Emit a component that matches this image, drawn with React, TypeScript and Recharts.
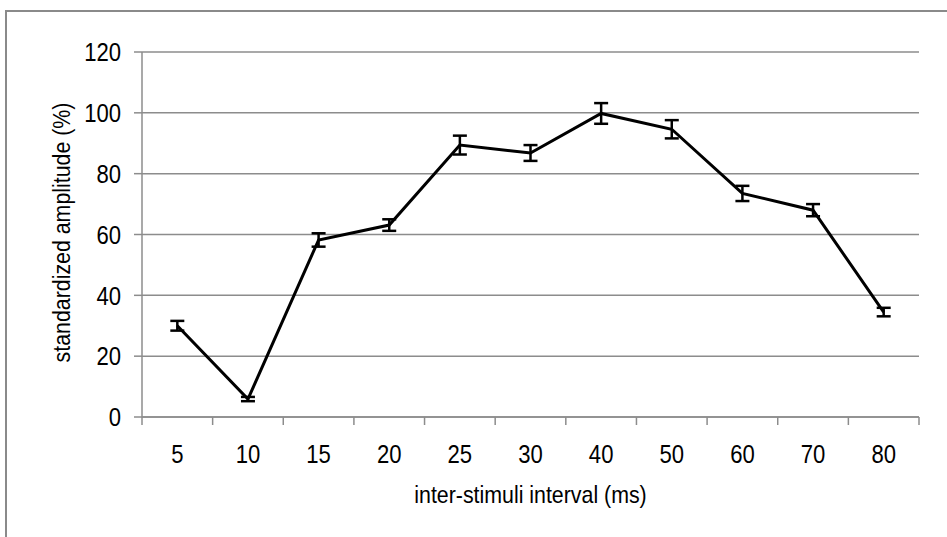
import { CartesianGrid, ErrorBar, Line, LineChart, XAxis, YAxis } from 'recharts';

const intervals = ['5', '10', '15', '20', '25', '30', '40', '50', '60', '70', '80'];
const amplitude = [30.0, 5.9, 58.2, 63.1, 89.4, 86.8, 99.8, 94.6, 73.5, 68.0, 34.5];
const amplitudeErr = [1.6, 0.7, 2.2, 1.9, 3.1, 2.6, 3.4, 3.0, 2.5, 2.0, 1.4];
const yTicks = [0, 20, 40, 60, 80, 100, 120];

const font = "'Liberation Sans', Arial, sans-serif";

const data = intervals.map((isi, i) => ({
  isi,
  pos: i + 0.5,
  amp: amplitude[i],
  err: amplitudeErr[i],
}));

const boundaries = intervals.map((_, i) => i).concat(intervals.length);
const centers = intervals.map((_, i) => i + 0.5);

// the original text is a narrow face, so squeeze Liberation Sans horizontally
function NarrowTick(props: any) {
  const { x, y, payload, textAnchor, vertical, label } = props;
  return (
    <g transform={`translate(${x},${y})`}>
      <text
        transform="scale(0.85,1)"
        textAnchor={textAnchor}
        dy={vertical ? '0.355em' : '0.71em'}
        fill="#000"
        fontSize={26}
        fontFamily={font}
      >
        {label ? label(payload.value) : payload.value}
      </text>
    </g>
  );
}

function XTitle({ viewBox }: any) {
  const cx = viewBox.x + viewBox.width / 2;
  return (
    <text
      transform={`translate(${cx},${503}) scale(0.89,1)`}
      textAnchor="middle"
      fill="#000"
      fontSize={24}
      fontFamily={font}
    >
      inter-stimuli interval (ms)
    </text>
  );
}

function YTitle({ viewBox }: any) {
  const cy = viewBox.y + viewBox.height / 2 - 2;
  return (
    <text
      transform={`translate(61,${cy}) rotate(-90) scale(0.89,1)`}
      textAnchor="middle"
      dy="0.355em"
      fill="#000"
      fontSize={24}
      fontFamily={font}
    >
      standardized amplitude (%)
    </text>
  );
}

export default function App() {
  return (
    <div style={{ position: 'absolute', left: 0, top: 0, width: 947, height: 537, background: '#fff' }}>
      <div
        style={{
          position: 'absolute',
          left: 5,
          top: 10,
          width: 960,
          height: 560,
          border: '2px solid #8a8a8a',
        }}
      />
      <LineChart
        width={947}
        height={537}
        data={data}
        margin={{ top: 52, right: 28, left: 0, bottom: 30 }}
        style={{ position: 'absolute', left: 0, top: 0 }}
      >
        <CartesianGrid vertical={false} stroke="#8c8c8c" strokeWidth={1.5} />
        <XAxis
          xAxisId={0}
          dataKey="pos"
          type="number"
          domain={[0, intervals.length]}
          ticks={boundaries}
          tickFormatter={() => ''}
          height={10}
          tickSize={8}
          stroke="#8c8c8c"
          strokeWidth={1.5}
        />
        <XAxis
          xAxisId={1}
          dataKey="pos"
          type="number"
          domain={[0, intervals.length]}
          ticks={centers}
          axisLine={false}
          tickLine={false}
          tickSize={0}
          tickMargin={18}
          height={80}
          tick={<NarrowTick label={(v: number) => intervals[Math.floor(v)]} />}
          label={<XTitle />}
        />
        <YAxis
          type="number"
          domain={[0, 120]}
          ticks={yTicks}
          width={142}
          tickSize={8}
          tickMargin={13}
          stroke="#8c8c8c"
          strokeWidth={1.5}
          tick={<NarrowTick vertical />}
          label={<YTitle />}
        />
        <Line
          xAxisId={0}
          type="linear"
          dataKey="amp"
          stroke="#000"
          strokeWidth={3}
          dot={false}
          isAnimationActive={false}
        >
          <ErrorBar dataKey="err" direction="y" width={7} stroke="#000" strokeWidth={2.5} />
        </Line>
      </LineChart>
    </div>
  );
}
